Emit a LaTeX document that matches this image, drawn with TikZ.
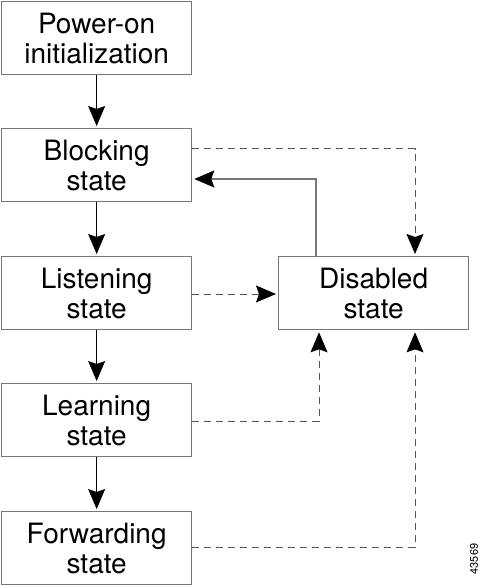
\documentclass[tikz,border=0pt]{standalone}
\usepackage{fontspec}
\setmainfont{TeX Gyre Heros}
\usetikzlibrary{arrows.meta}
\definecolor{boxgray}{HTML}{777777}
\definecolor{dashgray}{HTML}{555555}
\tikzset{
  statebox/.style={draw=boxgray, line width=1.3pt, minimum width=190pt, minimum height=73pt,
    align=center, font=\fontsize{28}{30}\selectfont, inner sep=0pt, anchor=north west},
  tip/.style={-{Stealth[length=20pt,width=17pt,inset=3pt,color=black]}, shorten >=2pt},
  flow/.style={tip, line width=1pt, black},
  dashflow/.style={tip, line width=1pt, dashgray, dash pattern=on 7pt off 5pt},
  back/.style={tip, line width=1.3pt, boxgray}
}
\begin{document}
\begin{tikzpicture}[x=1pt,y=-1pt]
\useasboundingbox (0,0) rectangle (483,585);
\node[statebox] (pow) at (1,1) {Power-on\\initialization};
\node[statebox] (blk) at (1,128) {Blocking\\state};
\node[statebox] (lis) at (1,256) {Listening\\state};
\node[statebox] (lrn) at (1,383) {Learning\\state};
\node[statebox] (fwd) at (1,511) {Forwarding\\state};
\node[statebox] (dis) at (278,256) {Disabled\\state};
\node[font=\fontsize{11}{11}\selectfont, rotate=90] (num) at (474,559) {43569};

\draw[flow] (pow) -- (blk);
\draw[flow] (blk) -- (lis);
\draw[flow] (lis) -- (lrn);
\draw[flow] (lrn) -- (fwd);

\draw[dashflow] (blk.east |- 0,149) -| (dis.north -| 415,0);
\draw[back] (dis.north -| 316,0) |- (blk.east |- 0,179);
\draw[dashflow] (lis.east |- 0,294) -- (dis.west |- 0,294);
\draw[dashflow] (lrn.east |- 0,421) -| (dis.south -| 319,0);
\draw[dashflow] (fwd.east |- 0,547) -| (dis.south -| 415,0);
\end{tikzpicture}
\end{document}
